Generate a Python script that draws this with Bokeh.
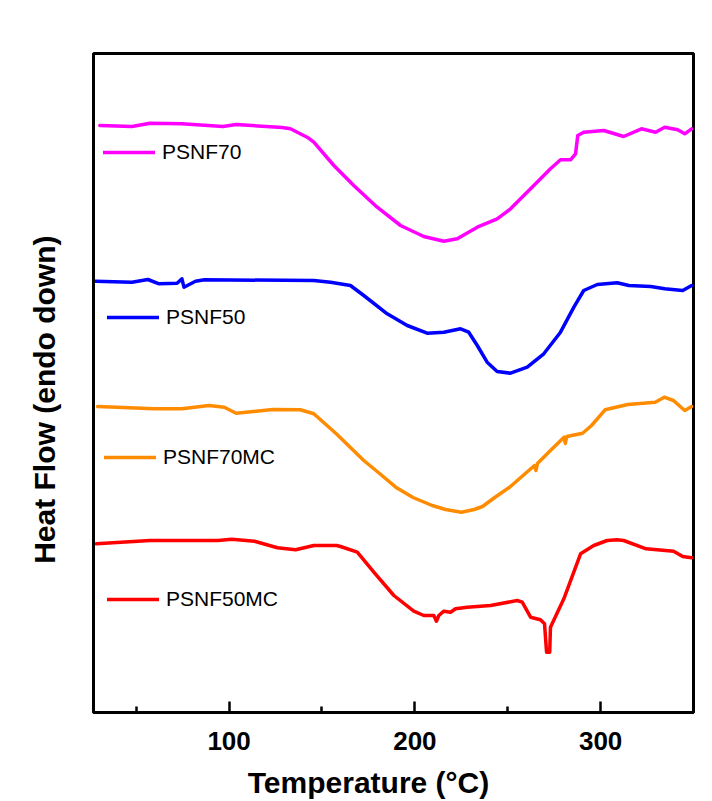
from bokeh.plotting import figure
from bokeh.models import (ColumnDataSource, Range1d, FixedTicker, Legend, LegendItem)
from bokeh.embed import file_html
from bokeh.resources import INLINE

# DSC traces: temperature (°C) and heat flow (arbitrary units, endo down)
psnf70_t = [30.4, 47.7, 57.4, 74.6, 96.7, 103.8, 128.5, 133.0, 142.0, 145.6, 156.4,
            167.1, 179.7, 192.3, 204.8, 215.6, 222.8, 233.6, 244.3, 251.5, 262.3,
            273.0, 278.4, 283.8, 286.5, 287.7, 290.9, 301.7, 312.4, 322.0, 329.6,
            334.5, 341.5, 345.3, 349.0]
psnf70_hf = [5.87, 5.86, 5.893, 5.887, 5.86, 5.88, 5.85, 5.837, 5.753, 5.703, 5.47,
             5.27, 5.053, 4.87, 4.76, 4.713, 4.737, 4.853, 4.937, 5.037, 5.237,
             5.437, 5.527, 5.527, 5.587, 5.77, 5.803, 5.82, 5.76, 5.837, 5.803,
             5.853, 5.827, 5.787, 5.837]

psnf50_t = [28.0, 47.7, 56.3, 62.3, 72.0, 74.6, 75.7, 81.9, 86.8, 145.6, 154.6, 165.3,
            172.5, 185.1, 195.9, 206.6, 215.6, 224.6, 229.0, 233.6, 238.9, 244.3,
            251.5, 260.5, 269.4, 278.4, 285.6, 290.9, 298.2, 308.9, 315.2, 327.0,
            334.5, 344.2, 349.0]
psnf50_hf = [4.313, 4.303, 4.33, 4.287, 4.293, 4.337, 4.253, 4.313, 4.327, 4.32, 4.303,
             4.27, 4.17, 3.987, 3.87, 3.793, 3.803, 3.837, 3.803, 3.67, 3.503, 3.41,
             3.393, 3.453, 3.587, 3.803, 4.053, 4.22, 4.28, 4.297, 4.27, 4.26,
             4.237, 4.22, 4.27]

psnf70mc_t = [29.2, 59.8, 74.6, 89.2, 97.4, 103.8, 123.5, 138.3, 145.6, 157.7, 172.5,
              181.0, 189.7, 199.0, 209.3, 216.5, 225.0, 232.0, 236.4, 243.0, 251.0,
              264.4, 265.2, 266.0, 273.0, 280.3, 281.0, 281.8, 290.3, 295.1, 302.4,
              314.6, 329.4, 334.3, 339.2, 345.3, 349.0]
psnf70mc_hf = [3.06, 3.037, 3.037, 3.07, 3.053, 2.993, 3.03, 3.027, 2.987, 2.787, 2.52,
               2.39, 2.253, 2.15, 2.07, 2.03, 2.003, 2.03, 2.06, 2.15, 2.253,
               2.47, 2.42, 2.49, 2.62, 2.753, 2.69, 2.76, 2.793, 2.87, 3.027,
               3.08, 3.103, 3.153, 3.12, 3.02, 3.06]

psnf50mc_t = [28.5, 57.4, 94.0, 101.4, 113.7, 126.0, 135.8, 145.6, 157.9, 160.0, 169.0,
              177.9, 188.7, 199.4, 204.8, 210.2, 211.6, 212.9, 215.6, 219.2, 221.9,
              228.2, 240.7, 255.1, 257.8, 262.3, 267.6, 269.8, 270.9, 272.6, 273.0,
              280.2, 289.2, 296.3, 303.5, 308.9, 312.4, 324.5, 339.3, 344.2, 349.0]
psnf50mc_hf = [1.687, 1.72, 1.72, 1.733, 1.713, 1.647, 1.627, 1.67, 1.67, 1.66, 1.603,
               1.403, 1.17, 1.013, 0.97, 0.97, 0.913, 0.97, 1.013, 1.003, 1.037,
               1.053, 1.07, 1.12, 1.103, 0.953, 0.927, 0.887, 0.603, 0.603, 0.853,
               1.137, 1.587, 1.67, 1.72, 1.727, 1.72, 1.637, 1.613, 1.56, 1.547]

series_names = ["PSNF70", "PSNF50", "PSNF70MC", "PSNF50MC"]
series_colors = ["#FF00FF", "#0000FF", "#FF8C00", "#FF0000"]
series_t = [psnf70_t, psnf50_t, psnf70mc_t, psnf50mc_t]
series_hf = [psnf70_hf, psnf50_hf, psnf70mc_hf, psnf50mc_hf]

major_ticks = [100, 200, 300]
minor_ticks = [50, 150, 250]

FONT = "Liberation Sans"
NBSP = "\u00a0"

p = figure(width=712, height=801, output_backend="svg", toolbar_location=None,
           x_range=Range1d(27, 350), y_range=Range1d(0, 6.59),
           min_border_left=93, min_border_right=19, min_border_top=53,
           min_border_bottom=89)
p.border_fill_color = "white"
p.background_fill_color = "white"
p.outline_line_color = "black"
p.outline_line_width = 3
p.xgrid.visible = False
p.ygrid.visible = False

# bottom axis
xa = p.xaxis[0]
xa.ticker = FixedTicker(ticks=major_ticks, minor_ticks=minor_ticks)
xa.axis_line_width = 3
xa.major_tick_in = 11
xa.major_tick_out = 0
xa.major_tick_line_width = 2.5
xa.minor_tick_in = 6
xa.minor_tick_out = 0
xa.minor_tick_line_width = 2.5
xa.major_label_text_font = FONT
xa.major_label_text_font_style = "bold"
xa.major_label_text_font_size = "26px"
xa.major_label_text_color = "black"
xa.major_label_standoff = 19
# trailing no-break spaces nudge the centred title a little to the left
xa.axis_label = "Temperature (°C)" + NBSP * 6
xa.axis_label_text_font = FONT
xa.axis_label_text_font_style = "bold"
xa.axis_label_text_font_size = "30px"
xa.axis_label_text_color = "black"
xa.axis_label_standoff = 13

# left axis: label only
ya = p.yaxis[0]
ya.ticker = FixedTicker(ticks=[])
ya.axis_line_width = 3
ya.major_tick_in = 0
ya.major_tick_out = 0
ya.minor_tick_in = 0
ya.minor_tick_out = 0
ya.major_label_text_font_size = "0px"
ya.axis_label = "Heat Flow (endo down)" + NBSP * 4
ya.axis_label_text_font = FONT
ya.axis_label_text_font_style = "bold"
ya.axis_label_text_font_size = "30px"
ya.axis_label_text_color = "black"
ya.axis_label_standoff = 33

# legend entry placement (screen px from the frame's bottom-left)
legend_spots = [(10, 548), (14, 383), (11, 243), (14, 101)]

for name, color, t, hf, spot in zip(series_names, series_colors, series_t,
                                     series_hf, legend_spots):
    src = ColumnDataSource(dict(t=t, hf=hf))
    r = p.line("t", "hf", source=src, line_color=color, line_width=3.5,
               line_join="round", line_cap="round")
    leg = Legend(items=[LegendItem(label=name, renderers=[r])], location=spot,
                 border_line_color=None, background_fill_alpha=0,
                 padding=0, margin=0, spacing=0, glyph_width=52, glyph_height=20,
                 label_height=20, label_standoff=7,
                 label_text_font=FONT, label_text_font_size="21px",
                 label_text_color="black")
    p.add_layout(leg)

open("out.html", "w").write(file_html(p, INLINE))
